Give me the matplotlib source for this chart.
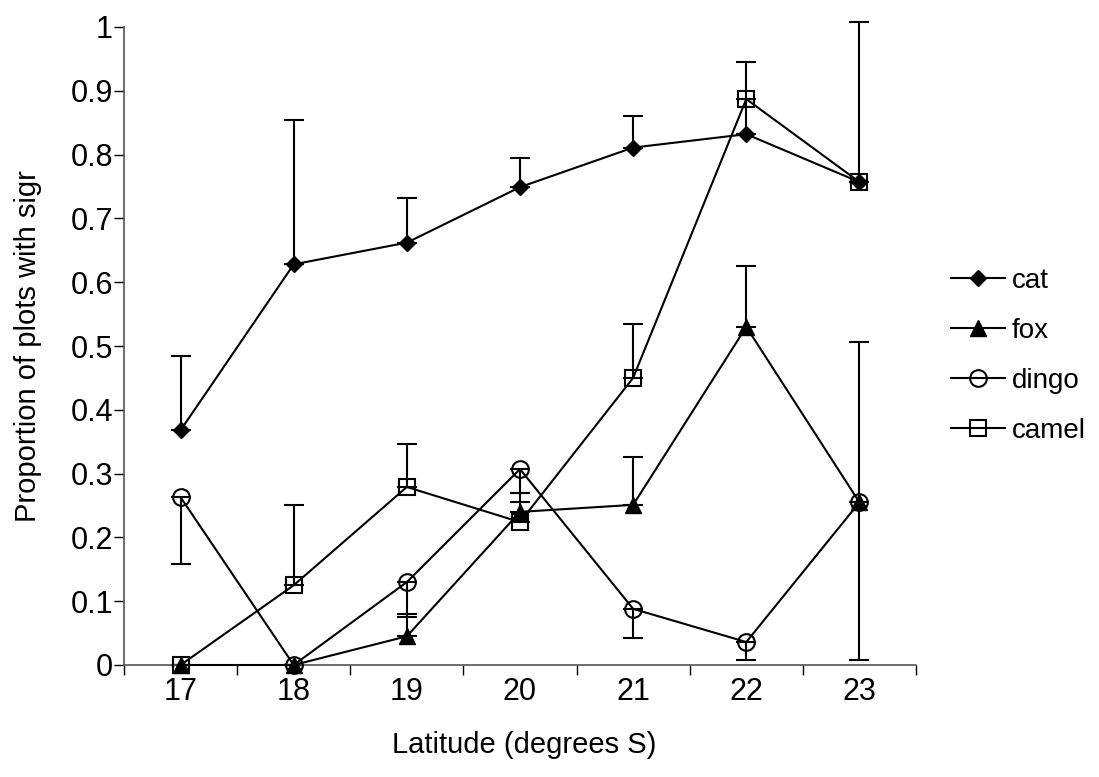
import matplotlib
matplotlib.use("Agg")
import matplotlib.pyplot as plt
import numpy as np

plt.rcParams['font.family'] = ['Liberation Sans', 'DejaVu Sans']

latitudes = ["17", "18", "19", "20", "21", "22", "23"]
cat = [0.368, 0.628, 0.662, 0.749, 0.811, 0.832, 0.757]
fox = [0.0, 0.0, 0.045, 0.240, 0.251, 0.530, 0.255]
dingo = [0.263, 0.0, 0.130, 0.307, 0.088, 0.036, 0.255]
camel = [0.0, 0.125, 0.279, 0.224, 0.450, 0.887, 0.757]

cat_err_plus = [0.116, 0.227, 0.070, 0.046, 0.050, 0.113, 0.0]
fox_err_plus = [0.0, 0.0, 0.035, 0.030, 0.075, 0.095, 0.251]
dingo_err_minus = [0.105, 0.0, 0.055, 0.037, 0.046, 0.028, 0.247]
camel_err_plus = [0.0, 0.126, 0.067, 0.031, 0.084, 0.0, 0.251]

yticks = [0, 0.1, 0.2, 0.3, 0.4, 0.5, 0.6, 0.7, 0.8, 0.9, 1]
ytick_labels = ["0", "0.1", "0.2", "0.3", "0.4", "0.5", "0.6", "0.7", "0.8", "0.9", "1"]

fig = plt.figure(figsize=(10.99, 7.77), dpi=100)
ax = fig.add_axes([124/1099, 1 - 665/777, (916-124)/1099, (665-27)/777])

x = np.arange(len(latitudes))
lw = 1.5
capsize = 7

def errs(ax, vals, up, down):
    ax.errorbar(x, vals, yerr=[down, up], fmt='none', ecolor='black',
                elinewidth=1.5, capsize=capsize, capthick=1.5, clip_on=False, zorder=2)

zeros = [0] * len(latitudes)
errs(ax, cat, cat_err_plus, zeros)
errs(ax, fox, fox_err_plus, zeros)
errs(ax, dingo, zeros, dingo_err_minus)
errs(ax, camel, camel_err_plus, zeros)

ax.plot(x, cat, color='black', lw=lw, marker='D', ms=8, mfc='black', mec='black', clip_on=False, zorder=3, label='cat')
ax.plot(x, fox, color='black', lw=lw, marker='^', ms=11, mfc='black', mec='black', clip_on=False, zorder=3, label='fox')
ax.plot(x, dingo, color='black', lw=lw, marker='o', ms=12, mfc='none', mec='black', mew=1.5, clip_on=False, zorder=3, label='dingo')
ax.plot(x, camel, color='black', lw=lw, marker='s', ms=12, mfc='none', mec='black', mew=1.5, clip_on=False, zorder=3, label='camel')

ax.set_xlim(-0.5, len(latitudes) - 0.5)
ax.set_ylim(0, 1)
ax.set_xticks(np.arange(-0.5, len(latitudes), 1.0))
ax.set_xticklabels([])
ax.set_xticks(x, minor=True)
ax.set_xticklabels(latitudes, minor=True, fontsize=22)
ax.tick_params(axis='x', which='minor', length=0, pad=9)
ax.tick_params(axis='x', which='major', length=7, width=1, direction='out')
ax.set_yticks(yticks)
ax.set_yticklabels(ytick_labels, fontsize=22)
ax.tick_params(axis='y', length=7, width=1, direction='out', pad=1)

for s in ['top', 'right']:
    ax.spines[s].set_visible(False)
for s in ['left', 'bottom']:
    ax.spines[s].set_color('#555555')
    ax.spines[s].set_linewidth(1.2)

ax.set_xlabel("Latitude (degrees S)", fontsize=21)
ax.set_ylabel("Proportion of plots with sigr", fontsize=21)
ax.xaxis.set_label_coords(0.505, (665 - 745) / 638, transform=ax.transAxes)
ax.xaxis.label.set_va('center')
ax.yaxis.set_label_coords((28 - 124) / 792, 0.5, transform=ax.transAxes)
ax.yaxis.label.set_va('center')

leg = fig.legend(loc='upper left', bbox_to_anchor=(951/1099, 1 - 268/777), frameon=False,
                 fontsize=20, handlelength=1.95, labelspacing=0.86, handletextpad=0.25,
                 borderaxespad=0, borderpad=0)

fig.savefig("out.png", dpi=100)
